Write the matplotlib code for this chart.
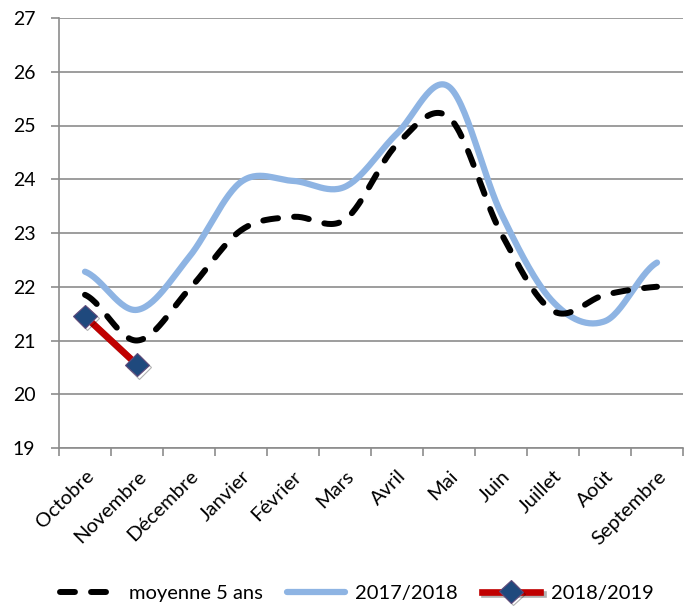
import numpy as np
import matplotlib
matplotlib.use('Agg')
import matplotlib.pyplot as plt
import matplotlib.patheffects as pe

# ---- data ----
mois = ['Octobre', 'Novembre', 'Décembre', 'Janvier', 'Février', 'Mars',
        'Avril', 'Mai', 'Juin', 'Juillet', 'Août', 'Septembre']
moyenne_5_ans = [21.85, 21.0, 21.95, 23.05, 23.3, 23.25, 24.65, 25.15, 23.0, 21.55, 21.85, 22.0]
saison_2017_2018 = [22.28, 21.57, 22.55, 23.95, 23.97, 23.86, 24.85, 25.72, 23.37, 21.72, 21.36, 22.45]
saison_2018_2019 = [21.45, 20.55]

plt.rcParams['font.family'] = ['Lato', 'DejaVu Sans']


def lisser(y, n=30):
    # Catmull-Rom, comme le lissage d'Excel
    y = np.asarray(y, dtype=float)
    x = np.arange(len(y), dtype=float)
    xs, ys = [], []
    for i in range(len(y) - 1):
        y0 = y[i - 1] if i > 0 else y[i]
        y3 = y[i + 2] if i + 2 < len(y) else y[i + 1]
        y1, y2 = y[i], y[i + 1]
        t = np.linspace(0, 1, n, endpoint=False)
        seg = 0.5 * ((2 * y1) + (-y0 + y2) * t
                     + (2 * y0 - 5 * y1 + 4 * y2 - y3) * t ** 2
                     + (-y0 + 3 * y1 - 3 * y2 + y3) * t ** 3)
        xs.append(x[i] + t)
        ys.append(seg)
    xs.append([x[-1]])
    ys.append([y[-1]])
    return np.concatenate(xs), np.concatenate(ys)


fig = plt.figure(figsize=(6.86, 6.08), dpi=100)
ax = fig.add_axes([59 / 686, 160 / 608, 624 / 686, 430 / 608])

xm, ym = lisser(moyenne_5_ans)
ax.plot(xm, ym, color='black', lw=4.3, dashes=(2.5, 2.7),
        dash_capstyle='round', label='moyenne 5 ans', zorder=3)
xb, yb = lisser(saison_2017_2018)
ax.plot(xb, yb, color='#8EB4E3', lw=4.5, solid_capstyle='round',
        label='2017/2018', zorder=2)
ax.plot(range(len(saison_2018_2019)), saison_2018_2019, color='#C00000', lw=4.8,
        marker='D', markersize=12, markerfacecolor='#1F497D',
        markeredgecolor='#604A7B', markeredgewidth=0.8, label='2018/2019', zorder=4,
        path_effects=[pe.SimpleLineShadow(offset=(1.5, -1.5), alpha=0.3), pe.Normal()])

ax.set_xlim(-0.5, len(mois) - 0.5)
ax.set_ylim(19, 27)
ax.set_yticks(range(19, 28))
ax.grid(axis='y', color='#8C8C8C', lw=1.2)
ax.set_axisbelow(True)

for s in ['top', 'right']:
    ax.spines[s].set_visible(False)
ax.spines['left'].set_color('#8C8C8C')
ax.spines['bottom'].set_color('#8C8C8C')
ax.spines['left'].set_linewidth(1.2)
ax.spines['bottom'].set_linewidth(1.2)

ax.set_xticks(range(len(mois)))
ax.set_xticklabels(mois, rotation=45, ha='right', rotation_mode='anchor', fontsize=14.5)
ax.set_xticks(np.arange(-0.5, len(mois)), minor=True)
ax.tick_params(axis='x', which='major', length=0, pad=14)
ax.tick_params(axis='x', which='minor', length=6, color='#8C8C8C', width=1.2)
ax.tick_params(axis='y', length=6, color='#8C8C8C', width=1.2, labelsize=14, pad=11)

fig.legend(loc='center', bbox_to_anchor=(0.52, 15 / 608), ncol=3, frameon=False,
           fontsize=14.5, handlelength=2.9, columnspacing=1.2, handletextpad=0.5)

fig.savefig('out.png', dpi=100)
